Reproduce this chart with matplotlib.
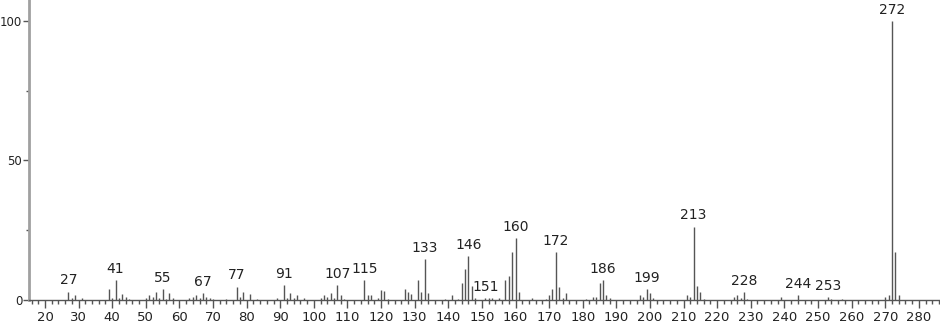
import numpy as np
import matplotlib
matplotlib.use('Agg')
from matplotlib import pyplot as plt
from matplotlib.ticker import MultipleLocator

# m/z and relative intensity
mz = [27, 28, 29, 31, 39, 40, 41, 42, 43, 44, 45, 50, 51, 52, 53, 54, 55, 56, 57, 58,
      63, 64, 65, 66, 67, 68, 69, 70, 74, 77, 78, 79, 81, 83, 89, 91, 92, 93, 94, 95,
      97, 102, 103, 104, 105, 106, 107, 108, 109, 115, 116, 117, 119, 120, 121, 122,
      127, 128, 129, 131, 132, 133, 134, 139, 141, 143, 144, 145, 146, 147, 148,
      151, 152, 153, 155, 157, 158, 159, 160, 161, 165, 169, 170, 171, 172, 173, 174,
      175, 181, 183, 184, 185, 186, 187, 188, 197, 198, 199, 200, 201, 211, 212, 213,
      214, 215, 216, 225, 226, 227, 228, 229, 239, 244, 253, 254, 257, 270, 271, 272,
      273, 274]
intensity = [3.0, 0.8, 1.8, 0.6, 3.8, 0.6, 7.2, 0.8, 2.2, 1.0, 0.4, 0.6, 1.8, 1.2, 2.9, 0.6, 3.8, 0.5, 2.4, 0.6,
             0.6, 1.0, 1.7, 0.6, 2.4, 1.0, 0.6, 0.3, 0.3, 4.8, 1.2, 3.0, 2.2, 0.4, 0.7, 5.4, 0.6, 2.4, 0.6, 1.7,
             0.6, 0.6, 1.8, 1.0, 2.6, 0.6, 5.4, 1.7, 0.4, 7.2, 1.8, 1.8, 0.6, 3.6, 3.2, 0.5,
             3.8, 3.0, 2.2, 7.2, 2.9, 14.7, 2.4, 0.3, 1.9, 0.4, 6.0, 11.1, 15.8, 5.0, 0.6,
             0.8, 0.8, 0.8, 0.6, 7.2, 8.6, 17.2, 22.2, 2.9, 0.6, 0.5, 1.7, 4.1, 17.2, 4.8, 0.6,
             2.4, 0.5, 0.9, 0.9, 6.0, 7.2, 1.9, 0.8, 1.8, 1.0, 3.8, 2.4, 0.8, 1.9, 1.0, 26.3,
             5.1, 3.0, 0.3, 1.0, 1.9, 0.8, 2.9, 0.5, 1.0, 1.9, 1.1, 0.4, 0.3, 1.0, 1.8, 100.0,
             17.3, 1.9]
labeled = [27, 41, 55, 67, 77, 91, 107, 115, 133, 146, 151, 160, 172, 186, 199, 213,
           228, 244, 253, 272]

fig = plt.figure(figsize=(9.4, 3.23), dpi=100)
ax = fig.add_axes([28.5 / 940, 23 / 323, 1 - 28.5 / 940, 300 / 323])

ax.vlines(mz, 0, intensity, colors='#555555', linewidth=1.0)

lookup = dict(zip(mz, intensity))
for m in labeled:
    ax.annotate(str(m), (m, lookup[m]), xytext=(0, 3), textcoords='offset points',
                ha='center', va='bottom', fontsize=10, color='#222222')

ax.set_xlim(15.1, 286.3)
ax.set_ylim(0, 107.5)

for s in ['top', 'right']:
    ax.spines[s].set_visible(False)
ax.spines['left'].set_color('#a0a0a0')
ax.spines['left'].set_linewidth(2)
ax.spines['bottom'].set_color('#555555')
ax.spines['bottom'].set_linewidth(1)

ax.xaxis.set_major_locator(MultipleLocator(10))
ax.xaxis.set_minor_locator(MultipleLocator(2))
ax.set_xticks(np.arange(20, 290, 10))
ax.yaxis.set_major_locator(MultipleLocator(50))
ax.yaxis.set_minor_locator(MultipleLocator(25))
ax.tick_params(axis='x', which='major', length=6, width=1, color='#555555',
               labelsize=9.5, labelcolor='#222222', pad=2)
ax.tick_params(axis='x', which='minor', length=3, width=1, color='#555555')
ax.tick_params(axis='y', which='major', length=4, width=1, color='#555555',
               labelsize=8.5, labelcolor='#222222', pad=0.5)
ax.tick_params(axis='y', which='minor', length=2, width=1, color='#555555')

plt.savefig('out.png', dpi=100)
